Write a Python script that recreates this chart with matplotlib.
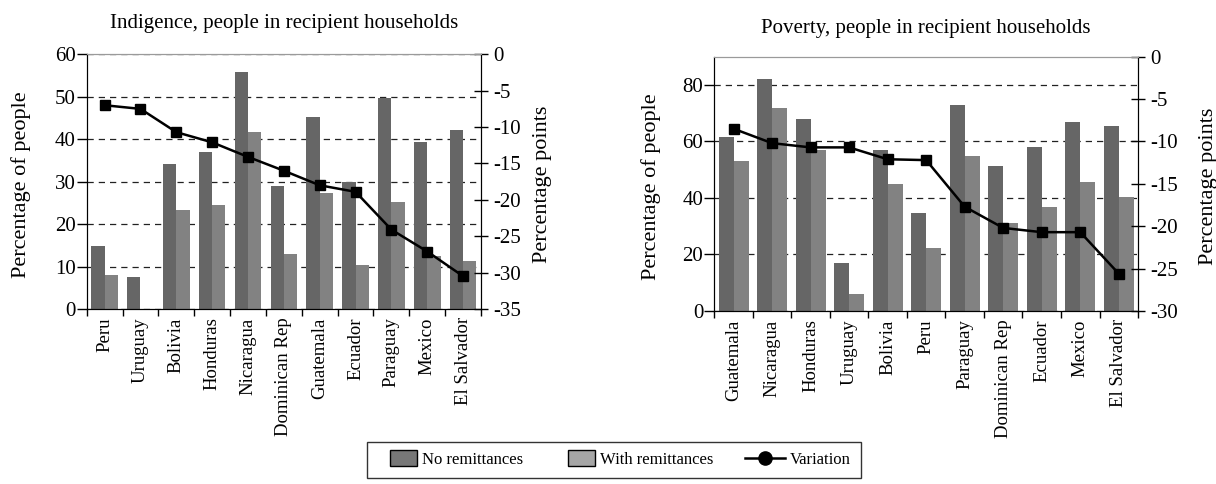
import numpy as np
import matplotlib
matplotlib.use("Agg")
import matplotlib.pyplot as plt
from matplotlib.lines import Line2D
from matplotlib.patches import Patch, Rectangle
from matplotlib.legend_handler import HandlerPatch

plt.rcParams['font.family'] = ['Liberation Serif', 'DejaVu Serif']

# indigence panel
ind_countries = ["Peru", "Uruguay", "Bolivia", "Honduras", "Nicaragua", "Dominican Rep",
                 "Guatemala", "Ecuador", "Paraguay", "Mexico", "El Salvador"]
ind_no_rem = [14.8, 7.5, 34.2, 37.0, 55.9, 29.0, 45.2, 29.9, 49.6, 39.4, 42.2]
ind_with_rem = [7.9, 0.0, 23.3, 24.5, 41.7, 13.0, 27.4, 10.4, 25.2, 12.5, 11.4]
ind_var = [-7.0, -7.5, -10.7, -12.1, -14.1, -16.0, -18.0, -18.9, -24.1, -27.1, -30.5]

# poverty panel
pov_countries = ["Guatemala", "Nicaragua", "Honduras", "Uruguay", "Bolivia", "Peru",
                 "Paraguay", "Dominican Rep", "Ecuador", "Mexico", "El Salvador"]
pov_no_rem = [61.6, 82.1, 68.0, 17.1, 57.0, 34.7, 72.9, 51.3, 58.1, 66.9, 65.6]
pov_with_rem = [53.1, 71.9, 57.1, 6.0, 45.0, 22.4, 54.9, 31.2, 36.8, 45.8, 40.3]
pov_var = [-8.5, -10.2, -10.7, -10.7, -12.1, -12.2, -17.7, -20.2, -20.7, -20.7, -25.6]

dark = '#666666'
light = '#828282'


def panel(rect, title, cats, no_rem, with_rem, var, ylim, yticks, y2lim, y2ticks, bw,
          lab_x, lab2_x, tpad):
    ax = fig.add_axes(rect)
    x = np.arange(len(cats))
    ax.bar(x - bw / 2, no_rem, bw, color=dark, zorder=2)
    ax.bar(x + bw / 2, with_rem, bw, color=light, zorder=2)
    ax.set_xlim(-0.5, len(cats) - 0.5)
    ax.set_ylim(*ylim)
    ax.set_yticks(yticks)
    ax.set_xticks(np.arange(len(cats) + 1) - 0.5)
    ax.set_xticklabels([])
    ax.set_xticks(x, minor=True)
    ax.set_xticklabels(cats, minor=True, rotation=90, fontsize=13.5)
    ax.tick_params(axis='x', which='minor', length=0, pad=6)
    ax.tick_params(axis='x', which='major', length=5, direction='out', width=1)
    ax.tick_params(axis='y', labelsize=15, length=7, width=1, pad=1)
    ax.yaxis.grid(True, linestyle=(0, (5, 4)), color='#222222', lw=0.9, zorder=1)
    ax.set_axisbelow(True)
    ax.spines['top'].set_color('#9a9a9a')
    ax.spines['top'].set_zorder(3)
    ax.set_ylabel('Percentage of people', fontsize=16)
    ax.yaxis.set_label_coords(lab_x, 0.49)
    ax.set_title(title, fontsize=15, pad=tpad)

    ax2 = ax.twinx()
    ax2.plot(x, var, color='black', lw=1.8, marker='s', markersize=6.5)
    ax2.set_ylim(*y2lim)
    ax2.set_yticks(y2ticks)
    ax2.set_yticklabels([str(t) for t in y2ticks])
    ax2.tick_params(axis='y', labelsize=15, length=10, width=1, pad=4, direction='inout')
    ax2.spines['top'].set_color('#9a9a9a')
    ax2.set_ylabel('Percentage points', fontsize=16)
    ax2.yaxis.set_label_coords(lab2_x, 0.49)
    return ax


fig = plt.figure(figsize=(12.16, 4.84), dpi=100)

panel([0.0713, 0.3616, 0.3243, 0.5262], 'Indigence, people in recipient households',
      ind_countries, ind_no_rem, ind_with_rem, ind_var,
      (0, 60), range(0, 61, 10), (-35, 0), list(range(-35, 1, 5)), 0.37,
      -0.142, 1.132, 19)

panel([0.5874, 0.3574, 0.3485, 0.5255], 'Poverty, people in recipient households',
      pov_countries, pov_no_rem, pov_with_rem, pov_var,
      (0, 90), range(0, 81, 20), (-30, 0), list(range(-30, 1, 5)), 0.39,
      -0.126, 1.144, 17)


def narrow_box(legend, orig_handle, xdescent, ydescent, width, height, fontsize):
    return Rectangle((-xdescent + width * 0.33, -ydescent - height * 0.15),
                     width * 0.67, height * 1.3)


handles = [Patch(facecolor='#777777', edgecolor='black', lw=1),
           Patch(facecolor='#a6a6a6', edgecolor='black', lw=1),
           Line2D([], [], color='black', lw=1.8, marker='o', markersize=9.5)]
leg = fig.legend(handles, ['No remittances', 'With remittances', 'Variation'],
                 loc='center', bbox_to_anchor=(0.505, 0.05), ncol=3, fontsize=12,
                 frameon=True, fancybox=False, edgecolor='black', handlelength=2.4,
                 columnspacing=1.9, handletextpad=0.3, borderpad=0.6, borderaxespad=0,
                 handler_map={Patch: HandlerPatch(patch_func=narrow_box)})
leg.get_frame().set_linewidth(1)

fig.savefig('out.png', dpi=100)
